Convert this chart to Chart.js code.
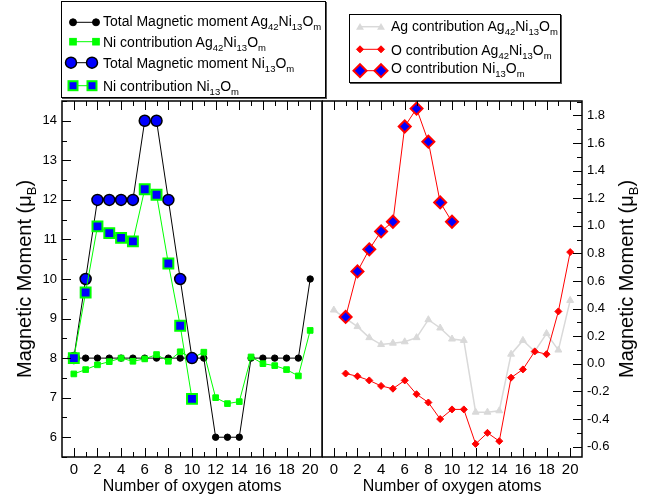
<!DOCTYPE html>
<html><head><meta charset="utf-8">
<script src="https://cdn.jsdelivr.net/npm/chart.js@4/dist/chart.umd.min.js"></script>
<style>
body{margin:0;background:#fff;width:650px;height:495px;position:relative;overflow:hidden;font-family:"Liberation Sans",Arial,sans-serif;color:#000;}
canvas{position:absolute;top:0;}
#c1{left:0;}
#c2{left:322px;}
.box{position:absolute;box-sizing:border-box;border:1px solid #000;background:#fff;box-shadow:1px 1px 0 #555;}
.lt{position:absolute;font-size:14px;line-height:16px;white-space:nowrap;}
sub{font-size:9.5px;vertical-align:-4px;line-height:0;}
.yt{position:absolute;font-size:20px;line-height:20px;white-space:nowrap;transform:translate(-50%,-50%) rotate(-90deg);}
.yt sub{font-size:13px;vertical-align:-5px;}
#legsvg{position:absolute;left:0;top:0;}
</style>
</head><body>
<canvas id="c1" width="324" height="495"></canvas>
<canvas id="c2" width="328" height="495"></canvas>

<div class="box" style="left:61px;top:1px;width:265px;height:97px;"></div>
<div class="box" style="left:349px;top:14px;width:212px;height:69px;"></div>
<svg id="legsvg" width="650" height="100"></svg>
<div class="lt" style="left:103px;top:13px;">Total Magnetic moment Ag<sub>42</sub>Ni<sub>13</sub>O<sub>m</sub></div>
<div class="lt" style="left:103px;top:34px;">Ni contribution Ag<sub>42</sub>Ni<sub>13</sub>O<sub>m</sub></div>
<div class="lt" style="left:103px;top:55px;">Total Magnetic moment Ni<sub>13</sub>O<sub>m</sub></div>
<div class="lt" style="left:103px;top:78px;">Ni contribution Ni<sub>13</sub>O<sub>m</sub></div>
<div class="lt" style="left:391px;top:18px;">Ag contribution Ag<sub>42</sub>Ni<sub>13</sub>O<sub>m</sub></div>
<div class="lt" style="left:391px;top:42px;">O contribution Ag<sub>42</sub>Ni<sub>13</sub>O<sub>m</sub></div>
<div class="lt" style="left:391px;top:60px;">O contribution Ni<sub>13</sub>O<sub>m</sub></div>

<div class="yt" style="left:24px;top:279px;">Magnetic Moment (μ<sub>B</sub>)</div>
<div class="yt" style="left:626px;top:279px;">Magnetic Moment (μ<sub>B</sub>)</div>

<script>
// ---- data ----
const oxygenAtoms = [0,1,2,3,4,5,6,7,8,9,10,11,12,13,14,15,16,17,18,19,20];
const totalAg42Ni13 = [8,8,8,8,8,8,8,8,8,8,8,8,6,6,6,8,8,8,8,8,10];
const niAg42Ni13 = [7.60,7.71,7.83,7.91,8.00,7.92,7.98,8.09,7.92,8.16,8.00,8.15,7.00,6.85,6.90,8.03,7.86,7.81,7.71,7.55,8.70];
const oxygenNi13 = [0,1,2,3,4,5,6,7,8,9,10];
const totalNi13 = [8,10,12,12,12,12,14,14,12,10,8];
const niNi13 = [8.00,9.66,11.33,11.16,11.04,10.95,12.27,12.13,10.39,8.82,6.97];
const agAg42Ni13 = [0.39,0.33,0.27,0.19,0.14,0.15,0.16,0.19,0.32,0.26,0.18,0.17,-0.35,-0.35,-0.34,0.07,0.17,0.09,0.22,0.10,0.46];
const oxygenO = [1,2,3,4,5,6,7,8,9,10,11,12,13,14,15,16,17,18,19,20];
const oAg42Ni13 = [-0.07,-0.09,-0.12,-0.16,-0.18,-0.12,-0.22,-0.28,-0.40,-0.33,-0.33,-0.58,-0.50,-0.56,-0.10,-0.04,0.09,0.07,0.38,0.81];
const oxygenONi13 = [1,2,3,4,5,6,7,8,9,10];
const oNi13 = [0.34,0.67,0.83,0.96,1.03,1.72,1.85,1.61,1.17,1.03];
const xTickLabels = [0,2,4,6,8,10,12,14,16,18,20];
const leftYTicks = [6,7,8,9,10,11,12,13,14];
const rightYTicks = [-0.6,-0.4,-0.2,0.0,0.2,0.4,0.6,0.8,1.0,1.2,1.4,1.6,1.8];

const pts = (xs, ys) => xs.map((x,i)=>({x, y: ys[i]}));

// ---- frame + inside ticks plugin ----
const framePlugin = {
  id:'frame',
  afterDraw(chart, args, opts){
    const {ctx, chartArea:a, scales} = chart;
    const xs = scales.x, ys = scales.y;
    ctx.save();
    ctx.strokeStyle='#000';
    ctx.lineWidth=1;
    const line=(x1,y1,x2,y2)=>{ctx.beginPath();ctx.moveTo(x1,y1);ctx.lineTo(x2,y2);ctx.stroke();};
    for(let v=Math.ceil(xs.min); v<=Math.floor(xs.max); v++){
      if (v < 0 || v > 20) continue;
      const p = Math.round(xs.getPixelForValue(v))+0.5;
      const L = (v%2===0)?9:5;
      line(p,a.bottom,p,a.bottom-L);
      line(p,a.top,p,a.top+L);
    }
    const step = opts.minor;
    for(let k=Math.ceil(ys.min/step); k*step<=ys.max+1e-9; k++){
      const v = k*step;
      const p = Math.round(ys.getPixelForValue(v))+0.5;
      const major = Math.abs(Math.round(k/opts.ratio)*opts.ratio - k) < 1e-6;
      const L = major?9:5;
      if (opts.side==='left') line(a.left,p,a.left+L,p);
      else line(a.right,p,a.right-L,p);
    }
    ctx.lineWidth=1.5;
    ctx.strokeRect(a.left,a.top,a.right-a.left,a.bottom-a.top);
    ctx.restore();
  }
};

const font = "'Liberation Sans', Arial, sans-serif";
const xScale = {
  type:'linear', min:-1, max:21,
  afterBuildTicks: s => { s.ticks = xTickLabels.map(v=>({value:v})); },
  afterFit: s => { s.height = 38; s.paddingLeft = 0; s.paddingRight = 0; },
  grid:{display:false, drawTicks:false}, border:{display:false},
  ticks:{autoSkip:false, maxRotation:0, padding:4, color:'#000', font:{family:font, size:15}},
  title:{display:true, text:'Number of oxygen atoms', color:'#000', font:{family:font, size:16, lineHeight:1}, padding:{top:0,bottom:0}}
};
const yFit = w => s => { s.width = w; s.paddingTop = 0; s.paddingBottom = 0; };

const common = {
  responsive:false, devicePixelRatio:1, animation:false,
  plugins:{legend:{display:false}, tooltip:{enabled:false}},
  elements:{line:{tension:0}}
};

new Chart(document.getElementById('c1'), {
  type:'line',
  data:{datasets:[
    {data:pts(oxygenNi13,niNi13), borderColor:'#00ff00', borderWidth:1, pointStyle:'rect', pointRadius:7, pointBackgroundColor:'#0000ff', pointBorderColor:'#00ff00', pointBorderWidth:2},
    {data:pts(oxygenNi13,totalNi13), borderColor:'#000', borderWidth:1, pointStyle:'circle', pointRadius:5.5, pointBackgroundColor:'#0000ff', pointBorderColor:'#000', pointBorderWidth:1.5},
    {data:pts(oxygenAtoms,niAg42Ni13), borderColor:'#00ff00', borderWidth:1, pointStyle:'rect', pointRadius:4, pointBackgroundColor:'#00ff00', pointBorderColor:'#00ff00', pointBorderWidth:1},
    {data:pts(oxygenAtoms,totalAg42Ni13), borderColor:'#000', borderWidth:1, pointStyle:'circle', pointRadius:3.2, pointBackgroundColor:'#000', pointBorderColor:'#000', pointBorderWidth:1}
  ]},
  options:{...common,
    layout:{autoPadding:false, padding:{top:101, right:2, left:0, bottom:0}},
    scales:{
      x: xScale,
      y:{type:'linear', position:'left', min:5.5, max:14.5,
        afterBuildTicks: s => { s.ticks = leftYTicks.map(v=>({value:v})); },
        afterFit: yFit(62),
        grid:{display:false, drawTicks:false}, border:{display:false},
        ticks:{padding:5, color:'#000', font:{family:font, size:13}}
      }
    },
    plugins:{...common.plugins, frame:{side:'left', minor:0.5, ratio:2}}
  },
  plugins:[framePlugin]
});

new Chart(document.getElementById('c2'), {
  type:'line',
  data:{datasets:[
    {data:pts(oxygenONi13,oNi13), borderColor:'#ff0000', borderWidth:1, pointStyle:'rectRot', pointRadius:6, pointBackgroundColor:'#0000ff', pointBorderColor:'#ff0000', pointBorderWidth:2},
    {data:pts(oxygenO,oAg42Ni13), borderColor:'#ff0000', borderWidth:1, pointStyle:'rectRot', pointRadius:3.5, pointBackgroundColor:'#ff0000', pointBorderColor:'#ff0000', pointBorderWidth:1},
    {data:pts(oxygenAtoms,agAg42Ni13), borderColor:'#d9d9d9', borderWidth:1.5, pointStyle:'triangle', pointRadius:4, pointBackgroundColor:'#d9d9d9', pointBorderColor:'#d9d9d9', pointBorderWidth:1}
  ]},
  options:{...common,
    layout:{autoPadding:false, padding:{top:101, right:0, left:0, bottom:0}},
    scales:{
      x: {...xScale},
      y:{type:'linear', position:'right', min:-0.675, max:1.905,
        afterBuildTicks: s => { s.ticks = rightYTicks.map(v=>({value:v})); },
        afterFit: yFit(68),
        grid:{display:false, drawTicks:false}, border:{display:false},
        ticks:{padding:5, color:'#000', font:{family:font, size:13}, callback:v=>Number(v).toFixed(1)}
      }
    },
    plugins:{...common.plugins, frame:{side:'right', minor:0.1, ratio:2}}
  },
  plugins:[framePlugin]
});

// ---- legend markers ----
const svg = document.getElementById('legsvg');
const NS='http://www.w3.org/2000/svg';
function el(tag, attrs){const e=document.createElementNS(NS,tag);for(const k in attrs)e.setAttribute(k,attrs[k]);svg.appendChild(e);return e;}
function seg(x1,x2,y,c,w){el('line',{x1,y1:y,x2,y2:y,stroke:c,'stroke-width':w||1});}
function circ(x,y,r,f,s,sw){el('circle',{cx:x,cy:y,r,fill:f,stroke:s,'stroke-width':sw});}
function sq(x,y,h,f,s,sw){el('rect',{x:x-h,y:y-h,width:2*h,height:2*h,fill:f,stroke:s,'stroke-width':sw});}
function dia(x,y,r,f,s,sw){el('polygon',{points:`${x},${y-r} ${x+r},${y} ${x},${y+r} ${x-r},${y}`,fill:f,stroke:s,'stroke-width':sw});}
function tri(x,y,r,f){el('polygon',{points:`${x},${y-r} ${x+r*0.87},${y+r*0.5} ${x-r*0.87},${y+r*0.5}`,fill:f});}
seg(73,96,22.3,'#000'); circ(73,22.3,3.5,'#000','#000',1); circ(96,22.3,3.5,'#000','#000',1);
seg(73,96,41.7,'#00ff00'); sq(73,41.7,3.3,'#00ff00','#00ff00',1); sq(96,41.7,3.3,'#00ff00','#00ff00',1);
seg(71,92,62.7,'#000'); circ(71,62.7,5.5,'#0000ff','#000',1.5); circ(92,62.7,5.5,'#0000ff','#000',1.5);
seg(73,92,85.7,'#00ff00'); sq(73,85.7,4.5,'#0000ff','#00ff00',2); sq(92,85.7,4.5,'#0000ff','#00ff00',2);
seg(360,381,26.7,'#d9d9d9',1.5); tri(360,27.5,4.5,'#d9d9d9'); tri(381,27.5,4.5,'#d9d9d9');
seg(360,381,49.3,'#ff0000'); dia(360,49.3,3.5,'#ff0000','#ff0000',1); dia(381,49.3,3.5,'#ff0000','#ff0000',1);
seg(360,381,70.7,'#ff0000'); dia(360,70.7,6.5,'#0000ff','#ff0000',2); dia(381,70.7,6.5,'#0000ff','#ff0000',2);
</script>
</body></html>
